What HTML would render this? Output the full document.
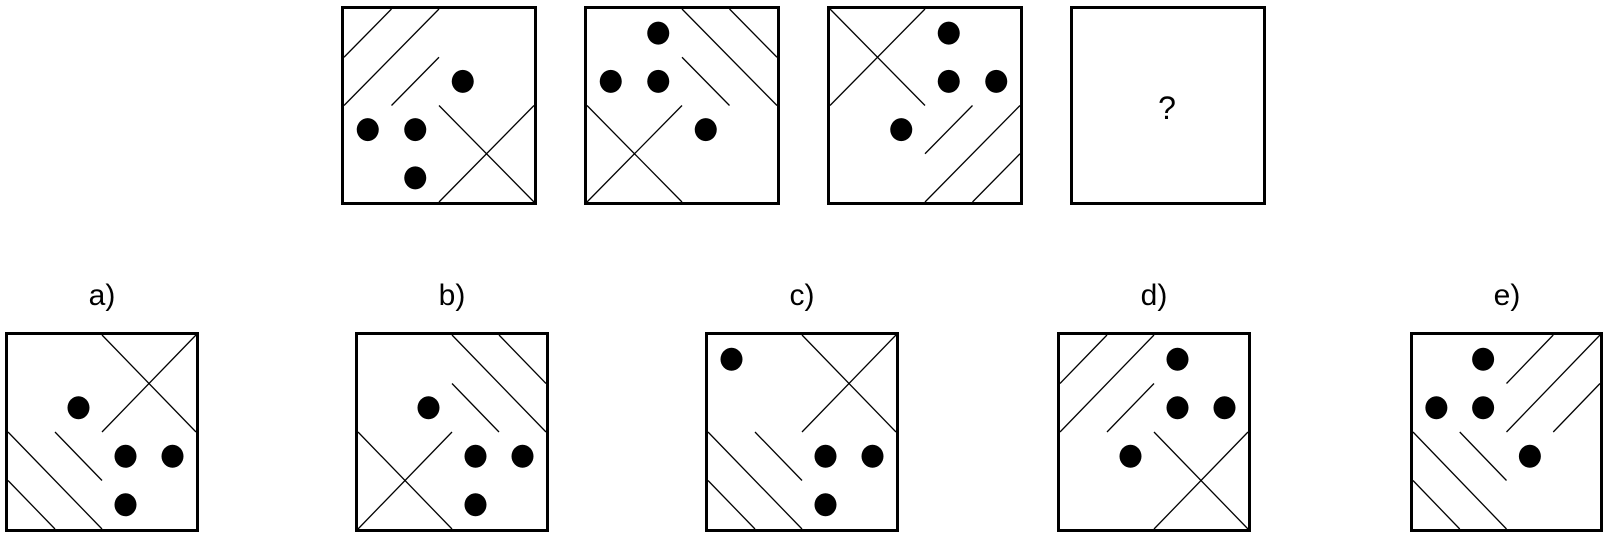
<!DOCTYPE html>
<html><head><meta charset="utf-8"><style>
html,body{margin:0;padding:0;background:#fff;width:1606px;height:535px;overflow:hidden}
svg{display:block}
</style></head><body>
<svg id="s" width="1606" height="535" xmlns="http://www.w3.org/2000/svg">
<g id="g" stroke="#000" fill="none"></g>
<text x="1167" y="119" font-family="Liberation Sans, sans-serif" font-size="32" text-anchor="middle" fill="#000">?</text>
<g font-family="Liberation Sans, sans-serif" font-size="30" text-anchor="middle" fill="#000">
<text x="102" y="305">a)</text>
<text x="452" y="305">b)</text>
<text x="802" y="305">c)</text>
<text x="1154" y="305">d)</text>
<text x="1507" y="305">e)</text>
</g>
</svg>
<script>
var g=document.getElementById('g'),NS='http://www.w3.org/2000/svg';
function el(t,a){var e=document.createElementNS(NS,t);for(var k in a)e.setAttribute(k,a[k]);g.appendChild(e);return e;}
function box(x,y,w,h,lines,dots){
 el('rect',{x:x+1.5,y:y+1.5,width:w-3,height:h-3,'stroke-width':3});
 var ix=x+3,iy=y+3,ux=(w-6)/4,uy=(h-6)/4;
 lines.forEach(function(l){el('line',{x1:ix+l[0]*ux,y1:iy+l[1]*uy,x2:ix+l[2]*ux,y2:iy+l[3]*uy,'stroke-width':1.3});});
 dots.forEach(function(d){el('ellipse',{cx:ix+d[0]*ux,cy:iy+d[1]*uy,rx:11,ry:11.5,fill:'#000',stroke:'none'});});
}
var slashTL=[[0,1,1,0],[0,2,2,0],[1,2,2,1]];
var bsTR=[[2,0,4,2],[3,0,4,1],[2,1,3,2]];
var slashBR=[[2,3,3,2],[2,4,4,2],[3,4,4,3]];
var slashTR=[[2,1,3,0],[2,2,4,0],[3,2,4,1]];
var bsBL=[[0,2,2,4],[0,3,1,4],[1,2,2,3]];
var xTL=[[0,0,2,2],[0,2,2,0]],xTR=[[2,0,4,2],[2,2,4,0]],xBL=[[0,2,2,4],[0,4,2,2]],xBR=[[2,2,4,4],[2,4,4,2]];
var TW=196,TH=199,TY=6,BW=194,BH=200,BY=332;
box(341,TY,TW,TH,slashTL.concat(xBR),[[2.5,1.5],[0.5,2.5],[1.5,2.5],[1.5,3.5]]);
box(584,TY,TW,TH,bsTR.concat(xBL),[[1.5,0.5],[0.5,1.5],[1.5,1.5],[2.5,2.5]]);
box(827,TY,TW,TH,xTL.concat(slashBR),[[2.5,0.5],[2.5,1.5],[3.5,1.5],[1.5,2.5]]);
box(1070,TY,TW,TH,[],[]);
var D3=[[1.5,1.5],[2.5,2.5],[3.5,2.5],[2.5,3.5]];
box(5,BY,BW,BH,xTR.concat(bsBL),D3);
box(355,BY,BW,BH,bsTR.concat(xBL),D3);
box(705,BY,BW,BH,xTR.concat(bsBL),[[0.5,0.5],[2.5,2.5],[3.5,2.5],[2.5,3.5]]);
box(1057,BY,BW,BH,slashTL.concat(xBR),[[2.5,0.5],[2.5,1.5],[3.5,1.5],[1.5,2.5]]);
box(1410,BY,BW-1,BH,slashTR.concat(bsBL),[[1.5,0.5],[0.5,1.5],[1.5,1.5],[2.5,2.5]]);
</script>
</body></html>
